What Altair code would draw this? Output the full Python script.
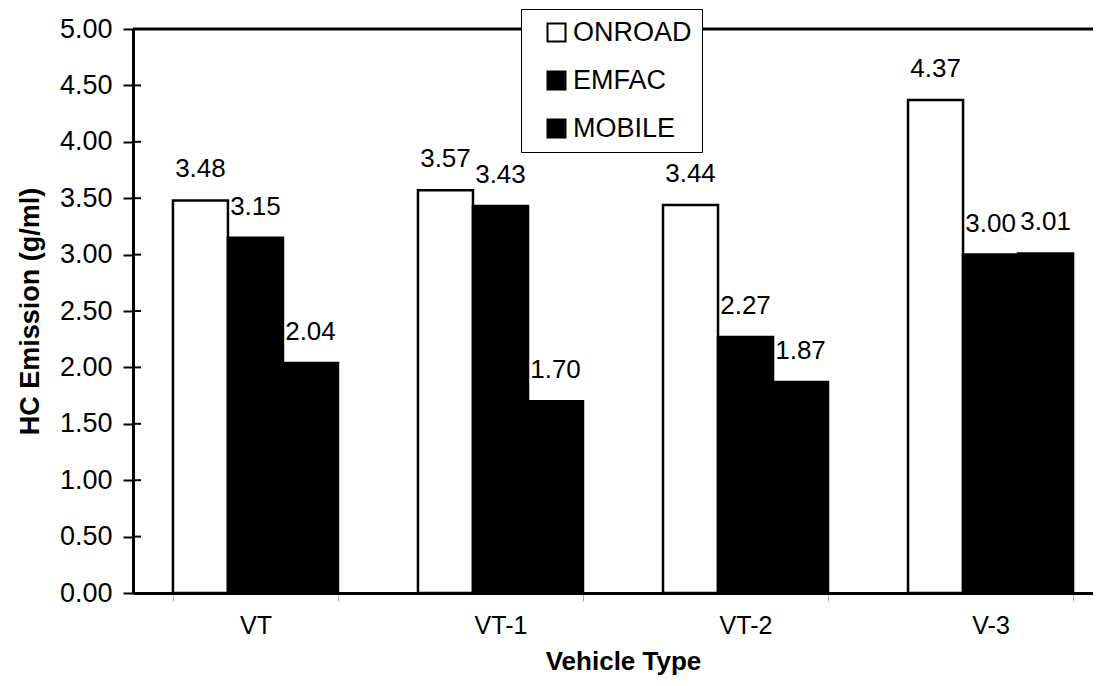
import altair as alt
import pandas as pd

categories = ["VT", "VT-1", "VT-2", "V-3"]
series = ["ONROAD", "EMFAC", "MOBILE"]
onroad = [3.48, 3.57, 3.44, 4.37]
emfac = [3.15, 3.43, 2.27, 3.00]
mobile = [2.04, 1.70, 1.87, 3.01]
y_ticks = [0.0, 0.5, 1.0, 1.5, 2.0, 2.5, 3.0, 3.5, 4.0, 4.5, 5.0]

rows = []
for s, vals in zip(series, [onroad, emfac, mobile]):
    for c, v in zip(categories, vals):
        rows.append({"type": c, "series": s, "value": v, "label": f"{v:.2f}"})
df = pd.DataFrame(rows)
ticks_df = pd.DataFrame({"t": y_ticks})

FONT = "Liberation Sans"
W, H = 960, 564

x_enc = alt.X(
    "type:N", sort=categories,
    scale=alt.Scale(paddingInner=0.3265, paddingOuter=0.163, range=[0, 980]),
    axis=alt.Axis(
        title="Vehicle Type", labelAngle=0, labelFontSize=25, labelFont=FONT,
        labelColor="black", tickBand="extent", tickColor="#aaaaaa", tickSize=8,
        tickWidth=1, labelPadding=12, domainColor="black", domainWidth=3,
        titleFont=FONT, titleFontSize=26, titleFontWeight="bold", titleColor="black",
        titleY=68, titleBaseline="middle",
    ),
)
xo_enc = alt.XOffset("series:N", sort=series, scale=alt.Scale(paddingInner=0, paddingOuter=0))
y_enc = alt.Y(
    "value:Q",
    scale=alt.Scale(domain=[0, 5], nice=False),
    axis=alt.Axis(
        values=y_ticks, format=".2f", grid=False, title="HC Emission (g/ml)",
        labelFontSize=27, labelFont=FONT, labelColor="black", labelPadding=11,
        tickSize=10, tickWidth=2, tickColor="black", domainColor="black", domainWidth=3,
        titleFont=FONT, titleFontSize=27, titleFontWeight="bold", titleColor="black",
        titleX=-103, titleY=H / 2, titleAngle=-90, titleAlign="center", titleBaseline="middle",
    ),
)

bars = alt.Chart(df).mark_bar(stroke="black", strokeWidth=2.5).encode(
    x=x_enc,
    xOffset=xo_enc,
    y=y_enc,
    color=alt.Color(
        "series:N", sort=series,
        scale=alt.Scale(domain=series, range=["white", "black", "black"]),
        legend=alt.Legend(
            title=None, orient="none", legendX=388, legendY=-20,
            fillColor="white", strokeColor="black", padding=10, symbolOffset=12,
            symbolType="square", symbolSize=324, symbolStrokeColor="black",
            symbolStrokeWidth=2, labelFontSize=27, labelFont=FONT,
            labelColor="black", rowPadding=20, labelOffset=3,
        ),
    ),
)

labels = alt.Chart(df).mark_text(
    dy=-31, baseline="middle", align="center", fontSize=26, font=FONT, color="black"
).encode(x=x_enc, xOffset=xo_enc, y=y_enc, text="label:N")

top_border = alt.Chart(pd.DataFrame({"v": [5.0]})).mark_rule(
    color="black", strokeWidth=3
).encode(y="v:Q")

inner_ticks = alt.Chart(ticks_df).mark_rule(color="black", strokeWidth=2).encode(
    y="t:Q", x=alt.value(0), x2=alt.value(8)
)

chart = alt.layer(bars, labels, top_border, inner_ticks).properties(
    width=W, height=H,
    autosize=alt.AutoSizeParams(type="none"),
    padding={"left": 125, "top": 21, "right": 0, "bottom": 85},
    background="white",
).configure_view(stroke=None)

chart.save("out.html", embed_options={"renderer": "svg", "actions": False})
